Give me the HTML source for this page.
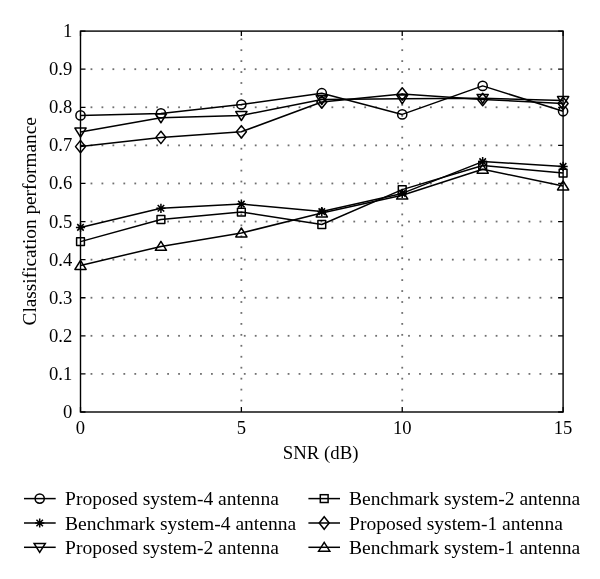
<!DOCTYPE html><html><head><meta charset="utf-8"><style>html,body{margin:0;padding:0;background:#fff;width:600px;height:579px;overflow:hidden}svg{display:block;filter:grayscale(1)}text{font-family:"Liberation Serif",serif;fill:#000}</style></head><body>
<svg width="600" height="579" viewBox="0 0 600 579">
<g fill="#707070"><rect x="90.55" y="373.01" width="1.8" height="1.8"/><rect x="101.50" y="373.01" width="1.8" height="1.8"/><rect x="112.45" y="373.01" width="1.8" height="1.8"/><rect x="123.40" y="373.01" width="1.8" height="1.8"/><rect x="134.35" y="373.01" width="1.8" height="1.8"/><rect x="145.30" y="373.01" width="1.8" height="1.8"/><rect x="156.25" y="373.01" width="1.8" height="1.8"/><rect x="167.20" y="373.01" width="1.8" height="1.8"/><rect x="178.15" y="373.01" width="1.8" height="1.8"/><rect x="189.10" y="373.01" width="1.8" height="1.8"/><rect x="200.05" y="373.01" width="1.8" height="1.8"/><rect x="211.00" y="373.01" width="1.8" height="1.8"/><rect x="221.95" y="373.01" width="1.8" height="1.8"/><rect x="232.90" y="373.01" width="1.8" height="1.8"/><rect x="243.85" y="373.01" width="1.8" height="1.8"/><rect x="254.80" y="373.01" width="1.8" height="1.8"/><rect x="265.75" y="373.01" width="1.8" height="1.8"/><rect x="276.70" y="373.01" width="1.8" height="1.8"/><rect x="287.65" y="373.01" width="1.8" height="1.8"/><rect x="298.60" y="373.01" width="1.8" height="1.8"/><rect x="309.55" y="373.01" width="1.8" height="1.8"/><rect x="320.50" y="373.01" width="1.8" height="1.8"/><rect x="331.45" y="373.01" width="1.8" height="1.8"/><rect x="342.40" y="373.01" width="1.8" height="1.8"/><rect x="353.35" y="373.01" width="1.8" height="1.8"/><rect x="364.30" y="373.01" width="1.8" height="1.8"/><rect x="375.25" y="373.01" width="1.8" height="1.8"/><rect x="386.20" y="373.01" width="1.8" height="1.8"/><rect x="397.15" y="373.01" width="1.8" height="1.8"/><rect x="408.10" y="373.01" width="1.8" height="1.8"/><rect x="419.05" y="373.01" width="1.8" height="1.8"/><rect x="430.00" y="373.01" width="1.8" height="1.8"/><rect x="440.95" y="373.01" width="1.8" height="1.8"/><rect x="451.90" y="373.01" width="1.8" height="1.8"/><rect x="462.85" y="373.01" width="1.8" height="1.8"/><rect x="473.80" y="373.01" width="1.8" height="1.8"/><rect x="484.75" y="373.01" width="1.8" height="1.8"/><rect x="495.70" y="373.01" width="1.8" height="1.8"/><rect x="506.65" y="373.01" width="1.8" height="1.8"/><rect x="517.60" y="373.01" width="1.8" height="1.8"/><rect x="528.55" y="373.01" width="1.8" height="1.8"/><rect x="539.50" y="373.01" width="1.8" height="1.8"/><rect x="550.45" y="373.01" width="1.8" height="1.8"/><rect x="90.55" y="334.92" width="1.8" height="1.8"/><rect x="101.50" y="334.92" width="1.8" height="1.8"/><rect x="112.45" y="334.92" width="1.8" height="1.8"/><rect x="123.40" y="334.92" width="1.8" height="1.8"/><rect x="134.35" y="334.92" width="1.8" height="1.8"/><rect x="145.30" y="334.92" width="1.8" height="1.8"/><rect x="156.25" y="334.92" width="1.8" height="1.8"/><rect x="167.20" y="334.92" width="1.8" height="1.8"/><rect x="178.15" y="334.92" width="1.8" height="1.8"/><rect x="189.10" y="334.92" width="1.8" height="1.8"/><rect x="200.05" y="334.92" width="1.8" height="1.8"/><rect x="211.00" y="334.92" width="1.8" height="1.8"/><rect x="221.95" y="334.92" width="1.8" height="1.8"/><rect x="232.90" y="334.92" width="1.8" height="1.8"/><rect x="243.85" y="334.92" width="1.8" height="1.8"/><rect x="254.80" y="334.92" width="1.8" height="1.8"/><rect x="265.75" y="334.92" width="1.8" height="1.8"/><rect x="276.70" y="334.92" width="1.8" height="1.8"/><rect x="287.65" y="334.92" width="1.8" height="1.8"/><rect x="298.60" y="334.92" width="1.8" height="1.8"/><rect x="309.55" y="334.92" width="1.8" height="1.8"/><rect x="320.50" y="334.92" width="1.8" height="1.8"/><rect x="331.45" y="334.92" width="1.8" height="1.8"/><rect x="342.40" y="334.92" width="1.8" height="1.8"/><rect x="353.35" y="334.92" width="1.8" height="1.8"/><rect x="364.30" y="334.92" width="1.8" height="1.8"/><rect x="375.25" y="334.92" width="1.8" height="1.8"/><rect x="386.20" y="334.92" width="1.8" height="1.8"/><rect x="397.15" y="334.92" width="1.8" height="1.8"/><rect x="408.10" y="334.92" width="1.8" height="1.8"/><rect x="419.05" y="334.92" width="1.8" height="1.8"/><rect x="430.00" y="334.92" width="1.8" height="1.8"/><rect x="440.95" y="334.92" width="1.8" height="1.8"/><rect x="451.90" y="334.92" width="1.8" height="1.8"/><rect x="462.85" y="334.92" width="1.8" height="1.8"/><rect x="473.80" y="334.92" width="1.8" height="1.8"/><rect x="484.75" y="334.92" width="1.8" height="1.8"/><rect x="495.70" y="334.92" width="1.8" height="1.8"/><rect x="506.65" y="334.92" width="1.8" height="1.8"/><rect x="517.60" y="334.92" width="1.8" height="1.8"/><rect x="528.55" y="334.92" width="1.8" height="1.8"/><rect x="539.50" y="334.92" width="1.8" height="1.8"/><rect x="550.45" y="334.92" width="1.8" height="1.8"/><rect x="90.55" y="296.83" width="1.8" height="1.8"/><rect x="101.50" y="296.83" width="1.8" height="1.8"/><rect x="112.45" y="296.83" width="1.8" height="1.8"/><rect x="123.40" y="296.83" width="1.8" height="1.8"/><rect x="134.35" y="296.83" width="1.8" height="1.8"/><rect x="145.30" y="296.83" width="1.8" height="1.8"/><rect x="156.25" y="296.83" width="1.8" height="1.8"/><rect x="167.20" y="296.83" width="1.8" height="1.8"/><rect x="178.15" y="296.83" width="1.8" height="1.8"/><rect x="189.10" y="296.83" width="1.8" height="1.8"/><rect x="200.05" y="296.83" width="1.8" height="1.8"/><rect x="211.00" y="296.83" width="1.8" height="1.8"/><rect x="221.95" y="296.83" width="1.8" height="1.8"/><rect x="232.90" y="296.83" width="1.8" height="1.8"/><rect x="243.85" y="296.83" width="1.8" height="1.8"/><rect x="254.80" y="296.83" width="1.8" height="1.8"/><rect x="265.75" y="296.83" width="1.8" height="1.8"/><rect x="276.70" y="296.83" width="1.8" height="1.8"/><rect x="287.65" y="296.83" width="1.8" height="1.8"/><rect x="298.60" y="296.83" width="1.8" height="1.8"/><rect x="309.55" y="296.83" width="1.8" height="1.8"/><rect x="320.50" y="296.83" width="1.8" height="1.8"/><rect x="331.45" y="296.83" width="1.8" height="1.8"/><rect x="342.40" y="296.83" width="1.8" height="1.8"/><rect x="353.35" y="296.83" width="1.8" height="1.8"/><rect x="364.30" y="296.83" width="1.8" height="1.8"/><rect x="375.25" y="296.83" width="1.8" height="1.8"/><rect x="386.20" y="296.83" width="1.8" height="1.8"/><rect x="397.15" y="296.83" width="1.8" height="1.8"/><rect x="408.10" y="296.83" width="1.8" height="1.8"/><rect x="419.05" y="296.83" width="1.8" height="1.8"/><rect x="430.00" y="296.83" width="1.8" height="1.8"/><rect x="440.95" y="296.83" width="1.8" height="1.8"/><rect x="451.90" y="296.83" width="1.8" height="1.8"/><rect x="462.85" y="296.83" width="1.8" height="1.8"/><rect x="473.80" y="296.83" width="1.8" height="1.8"/><rect x="484.75" y="296.83" width="1.8" height="1.8"/><rect x="495.70" y="296.83" width="1.8" height="1.8"/><rect x="506.65" y="296.83" width="1.8" height="1.8"/><rect x="517.60" y="296.83" width="1.8" height="1.8"/><rect x="528.55" y="296.83" width="1.8" height="1.8"/><rect x="539.50" y="296.83" width="1.8" height="1.8"/><rect x="550.45" y="296.83" width="1.8" height="1.8"/><rect x="90.55" y="258.74" width="1.8" height="1.8"/><rect x="101.50" y="258.74" width="1.8" height="1.8"/><rect x="112.45" y="258.74" width="1.8" height="1.8"/><rect x="123.40" y="258.74" width="1.8" height="1.8"/><rect x="134.35" y="258.74" width="1.8" height="1.8"/><rect x="145.30" y="258.74" width="1.8" height="1.8"/><rect x="156.25" y="258.74" width="1.8" height="1.8"/><rect x="167.20" y="258.74" width="1.8" height="1.8"/><rect x="178.15" y="258.74" width="1.8" height="1.8"/><rect x="189.10" y="258.74" width="1.8" height="1.8"/><rect x="200.05" y="258.74" width="1.8" height="1.8"/><rect x="211.00" y="258.74" width="1.8" height="1.8"/><rect x="221.95" y="258.74" width="1.8" height="1.8"/><rect x="232.90" y="258.74" width="1.8" height="1.8"/><rect x="243.85" y="258.74" width="1.8" height="1.8"/><rect x="254.80" y="258.74" width="1.8" height="1.8"/><rect x="265.75" y="258.74" width="1.8" height="1.8"/><rect x="276.70" y="258.74" width="1.8" height="1.8"/><rect x="287.65" y="258.74" width="1.8" height="1.8"/><rect x="298.60" y="258.74" width="1.8" height="1.8"/><rect x="309.55" y="258.74" width="1.8" height="1.8"/><rect x="320.50" y="258.74" width="1.8" height="1.8"/><rect x="331.45" y="258.74" width="1.8" height="1.8"/><rect x="342.40" y="258.74" width="1.8" height="1.8"/><rect x="353.35" y="258.74" width="1.8" height="1.8"/><rect x="364.30" y="258.74" width="1.8" height="1.8"/><rect x="375.25" y="258.74" width="1.8" height="1.8"/><rect x="386.20" y="258.74" width="1.8" height="1.8"/><rect x="397.15" y="258.74" width="1.8" height="1.8"/><rect x="408.10" y="258.74" width="1.8" height="1.8"/><rect x="419.05" y="258.74" width="1.8" height="1.8"/><rect x="430.00" y="258.74" width="1.8" height="1.8"/><rect x="440.95" y="258.74" width="1.8" height="1.8"/><rect x="451.90" y="258.74" width="1.8" height="1.8"/><rect x="462.85" y="258.74" width="1.8" height="1.8"/><rect x="473.80" y="258.74" width="1.8" height="1.8"/><rect x="484.75" y="258.74" width="1.8" height="1.8"/><rect x="495.70" y="258.74" width="1.8" height="1.8"/><rect x="506.65" y="258.74" width="1.8" height="1.8"/><rect x="517.60" y="258.74" width="1.8" height="1.8"/><rect x="528.55" y="258.74" width="1.8" height="1.8"/><rect x="539.50" y="258.74" width="1.8" height="1.8"/><rect x="550.45" y="258.74" width="1.8" height="1.8"/><rect x="90.55" y="220.65" width="1.8" height="1.8"/><rect x="101.50" y="220.65" width="1.8" height="1.8"/><rect x="112.45" y="220.65" width="1.8" height="1.8"/><rect x="123.40" y="220.65" width="1.8" height="1.8"/><rect x="134.35" y="220.65" width="1.8" height="1.8"/><rect x="145.30" y="220.65" width="1.8" height="1.8"/><rect x="156.25" y="220.65" width="1.8" height="1.8"/><rect x="167.20" y="220.65" width="1.8" height="1.8"/><rect x="178.15" y="220.65" width="1.8" height="1.8"/><rect x="189.10" y="220.65" width="1.8" height="1.8"/><rect x="200.05" y="220.65" width="1.8" height="1.8"/><rect x="211.00" y="220.65" width="1.8" height="1.8"/><rect x="221.95" y="220.65" width="1.8" height="1.8"/><rect x="232.90" y="220.65" width="1.8" height="1.8"/><rect x="243.85" y="220.65" width="1.8" height="1.8"/><rect x="254.80" y="220.65" width="1.8" height="1.8"/><rect x="265.75" y="220.65" width="1.8" height="1.8"/><rect x="276.70" y="220.65" width="1.8" height="1.8"/><rect x="287.65" y="220.65" width="1.8" height="1.8"/><rect x="298.60" y="220.65" width="1.8" height="1.8"/><rect x="309.55" y="220.65" width="1.8" height="1.8"/><rect x="320.50" y="220.65" width="1.8" height="1.8"/><rect x="331.45" y="220.65" width="1.8" height="1.8"/><rect x="342.40" y="220.65" width="1.8" height="1.8"/><rect x="353.35" y="220.65" width="1.8" height="1.8"/><rect x="364.30" y="220.65" width="1.8" height="1.8"/><rect x="375.25" y="220.65" width="1.8" height="1.8"/><rect x="386.20" y="220.65" width="1.8" height="1.8"/><rect x="397.15" y="220.65" width="1.8" height="1.8"/><rect x="408.10" y="220.65" width="1.8" height="1.8"/><rect x="419.05" y="220.65" width="1.8" height="1.8"/><rect x="430.00" y="220.65" width="1.8" height="1.8"/><rect x="440.95" y="220.65" width="1.8" height="1.8"/><rect x="451.90" y="220.65" width="1.8" height="1.8"/><rect x="462.85" y="220.65" width="1.8" height="1.8"/><rect x="473.80" y="220.65" width="1.8" height="1.8"/><rect x="484.75" y="220.65" width="1.8" height="1.8"/><rect x="495.70" y="220.65" width="1.8" height="1.8"/><rect x="506.65" y="220.65" width="1.8" height="1.8"/><rect x="517.60" y="220.65" width="1.8" height="1.8"/><rect x="528.55" y="220.65" width="1.8" height="1.8"/><rect x="539.50" y="220.65" width="1.8" height="1.8"/><rect x="550.45" y="220.65" width="1.8" height="1.8"/><rect x="90.55" y="182.56" width="1.8" height="1.8"/><rect x="101.50" y="182.56" width="1.8" height="1.8"/><rect x="112.45" y="182.56" width="1.8" height="1.8"/><rect x="123.40" y="182.56" width="1.8" height="1.8"/><rect x="134.35" y="182.56" width="1.8" height="1.8"/><rect x="145.30" y="182.56" width="1.8" height="1.8"/><rect x="156.25" y="182.56" width="1.8" height="1.8"/><rect x="167.20" y="182.56" width="1.8" height="1.8"/><rect x="178.15" y="182.56" width="1.8" height="1.8"/><rect x="189.10" y="182.56" width="1.8" height="1.8"/><rect x="200.05" y="182.56" width="1.8" height="1.8"/><rect x="211.00" y="182.56" width="1.8" height="1.8"/><rect x="221.95" y="182.56" width="1.8" height="1.8"/><rect x="232.90" y="182.56" width="1.8" height="1.8"/><rect x="243.85" y="182.56" width="1.8" height="1.8"/><rect x="254.80" y="182.56" width="1.8" height="1.8"/><rect x="265.75" y="182.56" width="1.8" height="1.8"/><rect x="276.70" y="182.56" width="1.8" height="1.8"/><rect x="287.65" y="182.56" width="1.8" height="1.8"/><rect x="298.60" y="182.56" width="1.8" height="1.8"/><rect x="309.55" y="182.56" width="1.8" height="1.8"/><rect x="320.50" y="182.56" width="1.8" height="1.8"/><rect x="331.45" y="182.56" width="1.8" height="1.8"/><rect x="342.40" y="182.56" width="1.8" height="1.8"/><rect x="353.35" y="182.56" width="1.8" height="1.8"/><rect x="364.30" y="182.56" width="1.8" height="1.8"/><rect x="375.25" y="182.56" width="1.8" height="1.8"/><rect x="386.20" y="182.56" width="1.8" height="1.8"/><rect x="397.15" y="182.56" width="1.8" height="1.8"/><rect x="408.10" y="182.56" width="1.8" height="1.8"/><rect x="419.05" y="182.56" width="1.8" height="1.8"/><rect x="430.00" y="182.56" width="1.8" height="1.8"/><rect x="440.95" y="182.56" width="1.8" height="1.8"/><rect x="451.90" y="182.56" width="1.8" height="1.8"/><rect x="462.85" y="182.56" width="1.8" height="1.8"/><rect x="473.80" y="182.56" width="1.8" height="1.8"/><rect x="484.75" y="182.56" width="1.8" height="1.8"/><rect x="495.70" y="182.56" width="1.8" height="1.8"/><rect x="506.65" y="182.56" width="1.8" height="1.8"/><rect x="517.60" y="182.56" width="1.8" height="1.8"/><rect x="528.55" y="182.56" width="1.8" height="1.8"/><rect x="539.50" y="182.56" width="1.8" height="1.8"/><rect x="550.45" y="182.56" width="1.8" height="1.8"/><rect x="90.55" y="144.47" width="1.8" height="1.8"/><rect x="101.50" y="144.47" width="1.8" height="1.8"/><rect x="112.45" y="144.47" width="1.8" height="1.8"/><rect x="123.40" y="144.47" width="1.8" height="1.8"/><rect x="134.35" y="144.47" width="1.8" height="1.8"/><rect x="145.30" y="144.47" width="1.8" height="1.8"/><rect x="156.25" y="144.47" width="1.8" height="1.8"/><rect x="167.20" y="144.47" width="1.8" height="1.8"/><rect x="178.15" y="144.47" width="1.8" height="1.8"/><rect x="189.10" y="144.47" width="1.8" height="1.8"/><rect x="200.05" y="144.47" width="1.8" height="1.8"/><rect x="211.00" y="144.47" width="1.8" height="1.8"/><rect x="221.95" y="144.47" width="1.8" height="1.8"/><rect x="232.90" y="144.47" width="1.8" height="1.8"/><rect x="243.85" y="144.47" width="1.8" height="1.8"/><rect x="254.80" y="144.47" width="1.8" height="1.8"/><rect x="265.75" y="144.47" width="1.8" height="1.8"/><rect x="276.70" y="144.47" width="1.8" height="1.8"/><rect x="287.65" y="144.47" width="1.8" height="1.8"/><rect x="298.60" y="144.47" width="1.8" height="1.8"/><rect x="309.55" y="144.47" width="1.8" height="1.8"/><rect x="320.50" y="144.47" width="1.8" height="1.8"/><rect x="331.45" y="144.47" width="1.8" height="1.8"/><rect x="342.40" y="144.47" width="1.8" height="1.8"/><rect x="353.35" y="144.47" width="1.8" height="1.8"/><rect x="364.30" y="144.47" width="1.8" height="1.8"/><rect x="375.25" y="144.47" width="1.8" height="1.8"/><rect x="386.20" y="144.47" width="1.8" height="1.8"/><rect x="397.15" y="144.47" width="1.8" height="1.8"/><rect x="408.10" y="144.47" width="1.8" height="1.8"/><rect x="419.05" y="144.47" width="1.8" height="1.8"/><rect x="430.00" y="144.47" width="1.8" height="1.8"/><rect x="440.95" y="144.47" width="1.8" height="1.8"/><rect x="451.90" y="144.47" width="1.8" height="1.8"/><rect x="462.85" y="144.47" width="1.8" height="1.8"/><rect x="473.80" y="144.47" width="1.8" height="1.8"/><rect x="484.75" y="144.47" width="1.8" height="1.8"/><rect x="495.70" y="144.47" width="1.8" height="1.8"/><rect x="506.65" y="144.47" width="1.8" height="1.8"/><rect x="517.60" y="144.47" width="1.8" height="1.8"/><rect x="528.55" y="144.47" width="1.8" height="1.8"/><rect x="539.50" y="144.47" width="1.8" height="1.8"/><rect x="550.45" y="144.47" width="1.8" height="1.8"/><rect x="90.55" y="106.38" width="1.8" height="1.8"/><rect x="101.50" y="106.38" width="1.8" height="1.8"/><rect x="112.45" y="106.38" width="1.8" height="1.8"/><rect x="123.40" y="106.38" width="1.8" height="1.8"/><rect x="134.35" y="106.38" width="1.8" height="1.8"/><rect x="145.30" y="106.38" width="1.8" height="1.8"/><rect x="156.25" y="106.38" width="1.8" height="1.8"/><rect x="167.20" y="106.38" width="1.8" height="1.8"/><rect x="178.15" y="106.38" width="1.8" height="1.8"/><rect x="189.10" y="106.38" width="1.8" height="1.8"/><rect x="200.05" y="106.38" width="1.8" height="1.8"/><rect x="211.00" y="106.38" width="1.8" height="1.8"/><rect x="221.95" y="106.38" width="1.8" height="1.8"/><rect x="232.90" y="106.38" width="1.8" height="1.8"/><rect x="243.85" y="106.38" width="1.8" height="1.8"/><rect x="254.80" y="106.38" width="1.8" height="1.8"/><rect x="265.75" y="106.38" width="1.8" height="1.8"/><rect x="276.70" y="106.38" width="1.8" height="1.8"/><rect x="287.65" y="106.38" width="1.8" height="1.8"/><rect x="298.60" y="106.38" width="1.8" height="1.8"/><rect x="309.55" y="106.38" width="1.8" height="1.8"/><rect x="320.50" y="106.38" width="1.8" height="1.8"/><rect x="331.45" y="106.38" width="1.8" height="1.8"/><rect x="342.40" y="106.38" width="1.8" height="1.8"/><rect x="353.35" y="106.38" width="1.8" height="1.8"/><rect x="364.30" y="106.38" width="1.8" height="1.8"/><rect x="375.25" y="106.38" width="1.8" height="1.8"/><rect x="386.20" y="106.38" width="1.8" height="1.8"/><rect x="397.15" y="106.38" width="1.8" height="1.8"/><rect x="408.10" y="106.38" width="1.8" height="1.8"/><rect x="419.05" y="106.38" width="1.8" height="1.8"/><rect x="430.00" y="106.38" width="1.8" height="1.8"/><rect x="440.95" y="106.38" width="1.8" height="1.8"/><rect x="451.90" y="106.38" width="1.8" height="1.8"/><rect x="462.85" y="106.38" width="1.8" height="1.8"/><rect x="473.80" y="106.38" width="1.8" height="1.8"/><rect x="484.75" y="106.38" width="1.8" height="1.8"/><rect x="495.70" y="106.38" width="1.8" height="1.8"/><rect x="506.65" y="106.38" width="1.8" height="1.8"/><rect x="517.60" y="106.38" width="1.8" height="1.8"/><rect x="528.55" y="106.38" width="1.8" height="1.8"/><rect x="539.50" y="106.38" width="1.8" height="1.8"/><rect x="550.45" y="106.38" width="1.8" height="1.8"/><rect x="90.55" y="68.29" width="1.8" height="1.8"/><rect x="101.50" y="68.29" width="1.8" height="1.8"/><rect x="112.45" y="68.29" width="1.8" height="1.8"/><rect x="123.40" y="68.29" width="1.8" height="1.8"/><rect x="134.35" y="68.29" width="1.8" height="1.8"/><rect x="145.30" y="68.29" width="1.8" height="1.8"/><rect x="156.25" y="68.29" width="1.8" height="1.8"/><rect x="167.20" y="68.29" width="1.8" height="1.8"/><rect x="178.15" y="68.29" width="1.8" height="1.8"/><rect x="189.10" y="68.29" width="1.8" height="1.8"/><rect x="200.05" y="68.29" width="1.8" height="1.8"/><rect x="211.00" y="68.29" width="1.8" height="1.8"/><rect x="221.95" y="68.29" width="1.8" height="1.8"/><rect x="232.90" y="68.29" width="1.8" height="1.8"/><rect x="243.85" y="68.29" width="1.8" height="1.8"/><rect x="254.80" y="68.29" width="1.8" height="1.8"/><rect x="265.75" y="68.29" width="1.8" height="1.8"/><rect x="276.70" y="68.29" width="1.8" height="1.8"/><rect x="287.65" y="68.29" width="1.8" height="1.8"/><rect x="298.60" y="68.29" width="1.8" height="1.8"/><rect x="309.55" y="68.29" width="1.8" height="1.8"/><rect x="320.50" y="68.29" width="1.8" height="1.8"/><rect x="331.45" y="68.29" width="1.8" height="1.8"/><rect x="342.40" y="68.29" width="1.8" height="1.8"/><rect x="353.35" y="68.29" width="1.8" height="1.8"/><rect x="364.30" y="68.29" width="1.8" height="1.8"/><rect x="375.25" y="68.29" width="1.8" height="1.8"/><rect x="386.20" y="68.29" width="1.8" height="1.8"/><rect x="397.15" y="68.29" width="1.8" height="1.8"/><rect x="408.10" y="68.29" width="1.8" height="1.8"/><rect x="419.05" y="68.29" width="1.8" height="1.8"/><rect x="430.00" y="68.29" width="1.8" height="1.8"/><rect x="440.95" y="68.29" width="1.8" height="1.8"/><rect x="451.90" y="68.29" width="1.8" height="1.8"/><rect x="462.85" y="68.29" width="1.8" height="1.8"/><rect x="473.80" y="68.29" width="1.8" height="1.8"/><rect x="484.75" y="68.29" width="1.8" height="1.8"/><rect x="495.70" y="68.29" width="1.8" height="1.8"/><rect x="506.65" y="68.29" width="1.8" height="1.8"/><rect x="517.60" y="68.29" width="1.8" height="1.8"/><rect x="528.55" y="68.29" width="1.8" height="1.8"/><rect x="539.50" y="68.29" width="1.8" height="1.8"/><rect x="550.45" y="68.29" width="1.8" height="1.8"/><rect x="240.47" y="399.65" width="1.8" height="1.8"/><rect x="240.47" y="388.70" width="1.8" height="1.8"/><rect x="240.47" y="377.75" width="1.8" height="1.8"/><rect x="240.47" y="366.80" width="1.8" height="1.8"/><rect x="240.47" y="355.85" width="1.8" height="1.8"/><rect x="240.47" y="344.90" width="1.8" height="1.8"/><rect x="240.47" y="333.95" width="1.8" height="1.8"/><rect x="240.47" y="323.00" width="1.8" height="1.8"/><rect x="240.47" y="312.05" width="1.8" height="1.8"/><rect x="240.47" y="301.10" width="1.8" height="1.8"/><rect x="240.47" y="290.15" width="1.8" height="1.8"/><rect x="240.47" y="279.20" width="1.8" height="1.8"/><rect x="240.47" y="268.25" width="1.8" height="1.8"/><rect x="240.47" y="257.30" width="1.8" height="1.8"/><rect x="240.47" y="246.35" width="1.8" height="1.8"/><rect x="240.47" y="235.40" width="1.8" height="1.8"/><rect x="240.47" y="224.45" width="1.8" height="1.8"/><rect x="240.47" y="213.50" width="1.8" height="1.8"/><rect x="240.47" y="202.55" width="1.8" height="1.8"/><rect x="240.47" y="191.60" width="1.8" height="1.8"/><rect x="240.47" y="180.65" width="1.8" height="1.8"/><rect x="240.47" y="169.70" width="1.8" height="1.8"/><rect x="240.47" y="158.75" width="1.8" height="1.8"/><rect x="240.47" y="147.80" width="1.8" height="1.8"/><rect x="240.47" y="136.85" width="1.8" height="1.8"/><rect x="240.47" y="125.90" width="1.8" height="1.8"/><rect x="240.47" y="114.95" width="1.8" height="1.8"/><rect x="240.47" y="104.00" width="1.8" height="1.8"/><rect x="240.47" y="93.05" width="1.8" height="1.8"/><rect x="240.47" y="82.10" width="1.8" height="1.8"/><rect x="240.47" y="71.15" width="1.8" height="1.8"/><rect x="240.47" y="60.20" width="1.8" height="1.8"/><rect x="240.47" y="49.25" width="1.8" height="1.8"/><rect x="240.47" y="38.30" width="1.8" height="1.8"/><rect x="401.33" y="399.65" width="1.8" height="1.8"/><rect x="401.33" y="388.70" width="1.8" height="1.8"/><rect x="401.33" y="377.75" width="1.8" height="1.8"/><rect x="401.33" y="366.80" width="1.8" height="1.8"/><rect x="401.33" y="355.85" width="1.8" height="1.8"/><rect x="401.33" y="344.90" width="1.8" height="1.8"/><rect x="401.33" y="333.95" width="1.8" height="1.8"/><rect x="401.33" y="323.00" width="1.8" height="1.8"/><rect x="401.33" y="312.05" width="1.8" height="1.8"/><rect x="401.33" y="301.10" width="1.8" height="1.8"/><rect x="401.33" y="290.15" width="1.8" height="1.8"/><rect x="401.33" y="279.20" width="1.8" height="1.8"/><rect x="401.33" y="268.25" width="1.8" height="1.8"/><rect x="401.33" y="257.30" width="1.8" height="1.8"/><rect x="401.33" y="246.35" width="1.8" height="1.8"/><rect x="401.33" y="235.40" width="1.8" height="1.8"/><rect x="401.33" y="224.45" width="1.8" height="1.8"/><rect x="401.33" y="213.50" width="1.8" height="1.8"/><rect x="401.33" y="202.55" width="1.8" height="1.8"/><rect x="401.33" y="191.60" width="1.8" height="1.8"/><rect x="401.33" y="180.65" width="1.8" height="1.8"/><rect x="401.33" y="169.70" width="1.8" height="1.8"/><rect x="401.33" y="158.75" width="1.8" height="1.8"/><rect x="401.33" y="147.80" width="1.8" height="1.8"/><rect x="401.33" y="136.85" width="1.8" height="1.8"/><rect x="401.33" y="125.90" width="1.8" height="1.8"/><rect x="401.33" y="114.95" width="1.8" height="1.8"/><rect x="401.33" y="104.00" width="1.8" height="1.8"/><rect x="401.33" y="93.05" width="1.8" height="1.8"/><rect x="401.33" y="82.10" width="1.8" height="1.8"/><rect x="401.33" y="71.15" width="1.8" height="1.8"/><rect x="401.33" y="60.20" width="1.8" height="1.8"/><rect x="401.33" y="49.25" width="1.8" height="1.8"/><rect x="401.33" y="38.30" width="1.8" height="1.8"/></g>
<rect x="80.5" y="31.1" width="482.6" height="380.9" fill="none" stroke="#000" stroke-width="1.4"/>
<path d="M80.5 412.00h5M563.1 412.00h-5M80.5 373.91h5M563.1 373.91h-5M80.5 335.82h5M563.1 335.82h-5M80.5 297.73h5M563.1 297.73h-5M80.5 259.64h5M563.1 259.64h-5M80.5 221.55h5M563.1 221.55h-5M80.5 183.46h5M563.1 183.46h-5M80.5 145.37h5M563.1 145.37h-5M80.5 107.28h5M563.1 107.28h-5M80.5 69.19h5M563.1 69.19h-5M80.5 31.10h5M563.1 31.10h-5M80.50 412.0v-5M80.50 31.1v5M241.37 412.0v-5M241.37 31.1v5M402.23 412.0v-5M402.23 31.1v5M563.10 412.0v-5M563.10 31.1v5" stroke="#000" stroke-width="1.3" fill="none"/>
<g font-size="18.6"><text x="72.3" y="418.00" text-anchor="end">0</text><text x="72.3" y="379.91" text-anchor="end">0.1</text><text x="72.3" y="341.82" text-anchor="end">0.2</text><text x="72.3" y="303.73" text-anchor="end">0.3</text><text x="72.3" y="265.64" text-anchor="end">0.4</text><text x="72.3" y="227.55" text-anchor="end">0.5</text><text x="72.3" y="189.46" text-anchor="end">0.6</text><text x="72.3" y="151.37" text-anchor="end">0.7</text><text x="72.3" y="113.28" text-anchor="end">0.8</text><text x="72.3" y="75.19" text-anchor="end">0.9</text><text x="72.3" y="37.10" text-anchor="end">1</text><text x="80.50" y="433.7" text-anchor="middle">0</text><text x="241.37" y="433.7" text-anchor="middle">5</text><text x="402.23" y="433.7" text-anchor="middle">10</text><text x="563.10" y="433.7" text-anchor="middle">15</text></g>
<text x="320.6" y="458.7" font-size="18.8" text-anchor="middle">SNR (dB)</text>
<text transform="translate(35.7 221.3) rotate(-90)" font-size="19.3" text-anchor="middle">Classification performance</text>
<g fill="none" stroke="#000" stroke-width="1.5" stroke-linejoin="round"><polyline points="80.50,115.40 160.93,113.40 241.37,104.50 321.80,93.20 402.23,114.40 482.67,85.90 563.10,111.30"/><polyline points="80.50,227.40 160.93,208.30 241.37,204.10 321.80,211.60 402.23,193.40 482.67,161.60 563.10,166.40"/><polyline points="80.50,132.00 160.93,117.80 241.37,115.50 321.80,99.50 402.23,98.80 482.67,98.30 563.10,100.50"/><polyline points="80.50,241.60 160.93,219.50 241.37,212.10 321.80,224.50 402.23,189.60 482.67,165.50 563.10,173.10"/><polyline points="80.50,146.60 160.93,137.40 241.37,131.80 321.80,102.00 402.23,94.00 482.67,99.50 563.10,103.50"/><polyline points="80.50,265.50 160.93,246.40 241.37,233.00 321.80,213.00 402.23,195.20 482.67,169.30 563.10,186.00"/><circle cx="80.50" cy="115.40" r="4.6"/><circle cx="160.93" cy="113.40" r="4.6"/><circle cx="241.37" cy="104.50" r="4.6"/><circle cx="321.80" cy="93.20" r="4.6"/><circle cx="402.23" cy="114.40" r="4.6"/><circle cx="482.67" cy="85.90" r="4.6"/><circle cx="563.10" cy="111.30" r="4.6"/><path d="M75.90 227.40L85.10 227.40M77.25 224.15L83.75 230.65M80.50 222.80L80.50 232.00M83.75 224.15L77.25 230.65"/><path d="M156.33 208.30L165.53 208.30M157.68 205.05L164.19 211.55M160.93 203.70L160.93 212.90M164.19 205.05L157.68 211.55"/><path d="M236.77 204.10L245.97 204.10M238.11 200.85L244.62 207.35M241.37 199.50L241.37 208.70M244.62 200.85L238.11 207.35"/><path d="M317.20 211.60L326.40 211.60M318.55 208.35L325.05 214.85M321.80 207.00L321.80 216.20M325.05 208.35L318.55 214.85"/><path d="M397.63 193.40L406.83 193.40M398.98 190.15L405.49 196.65M402.23 188.80L402.23 198.00M405.49 190.15L398.98 196.65"/><path d="M478.07 161.60L487.27 161.60M479.41 158.35L485.92 164.85M482.67 157.00L482.67 166.20M485.92 158.35L479.41 164.85"/><path d="M558.50 166.40L567.70 166.40M559.85 163.15L566.35 169.65M563.10 161.80L563.10 171.00M566.35 163.15L559.85 169.65"/><path d="M74.90 128.10L86.10 128.10L80.50 137.00Z"/><path d="M155.33 113.90L166.53 113.90L160.93 122.80Z"/><path d="M235.77 111.60L246.97 111.60L241.37 120.50Z"/><path d="M316.20 95.60L327.40 95.60L321.80 104.50Z"/><path d="M396.63 94.90L407.83 94.90L402.23 103.80Z"/><path d="M477.07 94.40L488.27 94.40L482.67 103.30Z"/><path d="M557.50 96.60L568.70 96.60L563.10 105.50Z"/><rect x="76.60" y="237.70" width="7.80" height="7.80"/><rect x="157.03" y="215.60" width="7.80" height="7.80"/><rect x="237.47" y="208.20" width="7.80" height="7.80"/><rect x="317.90" y="220.60" width="7.80" height="7.80"/><rect x="398.33" y="185.70" width="7.80" height="7.80"/><rect x="478.77" y="161.60" width="7.80" height="7.80"/><rect x="559.20" y="169.20" width="7.80" height="7.80"/><path d="M80.50 140.40L85.50 146.60L80.50 152.80L75.50 146.60Z"/><path d="M160.93 131.20L165.93 137.40L160.93 143.60L155.93 137.40Z"/><path d="M241.37 125.60L246.37 131.80L241.37 138.00L236.37 131.80Z"/><path d="M321.80 95.80L326.80 102.00L321.80 108.20L316.80 102.00Z"/><path d="M402.23 87.80L407.23 94.00L402.23 100.20L397.23 94.00Z"/><path d="M482.67 93.30L487.67 99.50L482.67 105.70L477.67 99.50Z"/><path d="M563.10 97.30L568.10 103.50L563.10 109.70L558.10 103.50Z"/><path d="M74.90 269.40L86.10 269.40L80.50 260.50Z"/><path d="M155.33 250.30L166.53 250.30L160.93 241.40Z"/><path d="M235.77 236.90L246.97 236.90L241.37 228.00Z"/><path d="M316.20 216.90L327.40 216.90L321.80 208.00Z"/><path d="M396.63 199.10L407.83 199.10L402.23 190.20Z"/><path d="M477.07 173.20L488.27 173.20L482.67 164.30Z"/><path d="M557.50 189.90L568.70 189.90L563.10 181.00Z"/></g>
<g fill="none" stroke="#000" stroke-width="1.5"><path d="M24 498.6H55.7"/><circle cx="39.70" cy="498.60" r="4.6"/><path d="M24 523.0H55.7"/><path d="M35.10 523.00L44.30 523.00M36.45 519.75L42.95 526.25M39.70 518.40L39.70 527.60M42.95 519.75L36.45 526.25"/><path d="M24 547.3H55.7"/><path d="M34.10 543.40L45.30 543.40L39.70 552.30Z"/><path d="M308.4 498.6H340"/><rect x="320.30" y="494.70" width="7.80" height="7.80"/><path d="M308.4 523.0H340"/><path d="M324.20 516.80L329.20 523.00L324.20 529.20L319.20 523.00Z"/><path d="M308.4 547.3H340"/><path d="M318.60 551.20L329.80 551.20L324.20 542.30Z"/></g>
<g font-size="19.55"><text x="65.1" y="505.10">Proposed system-4 antenna</text><text x="65.1" y="529.50">Benchmark system-4 antenna</text><text x="65.1" y="553.80">Proposed system-2 antenna</text><text x="349.1" y="505.10">Benchmark system-2 antenna</text><text x="349.1" y="529.50">Proposed system-1 antenna</text><text x="349.1" y="553.80">Benchmark system-1 antenna</text></g>
</svg></body></html>
